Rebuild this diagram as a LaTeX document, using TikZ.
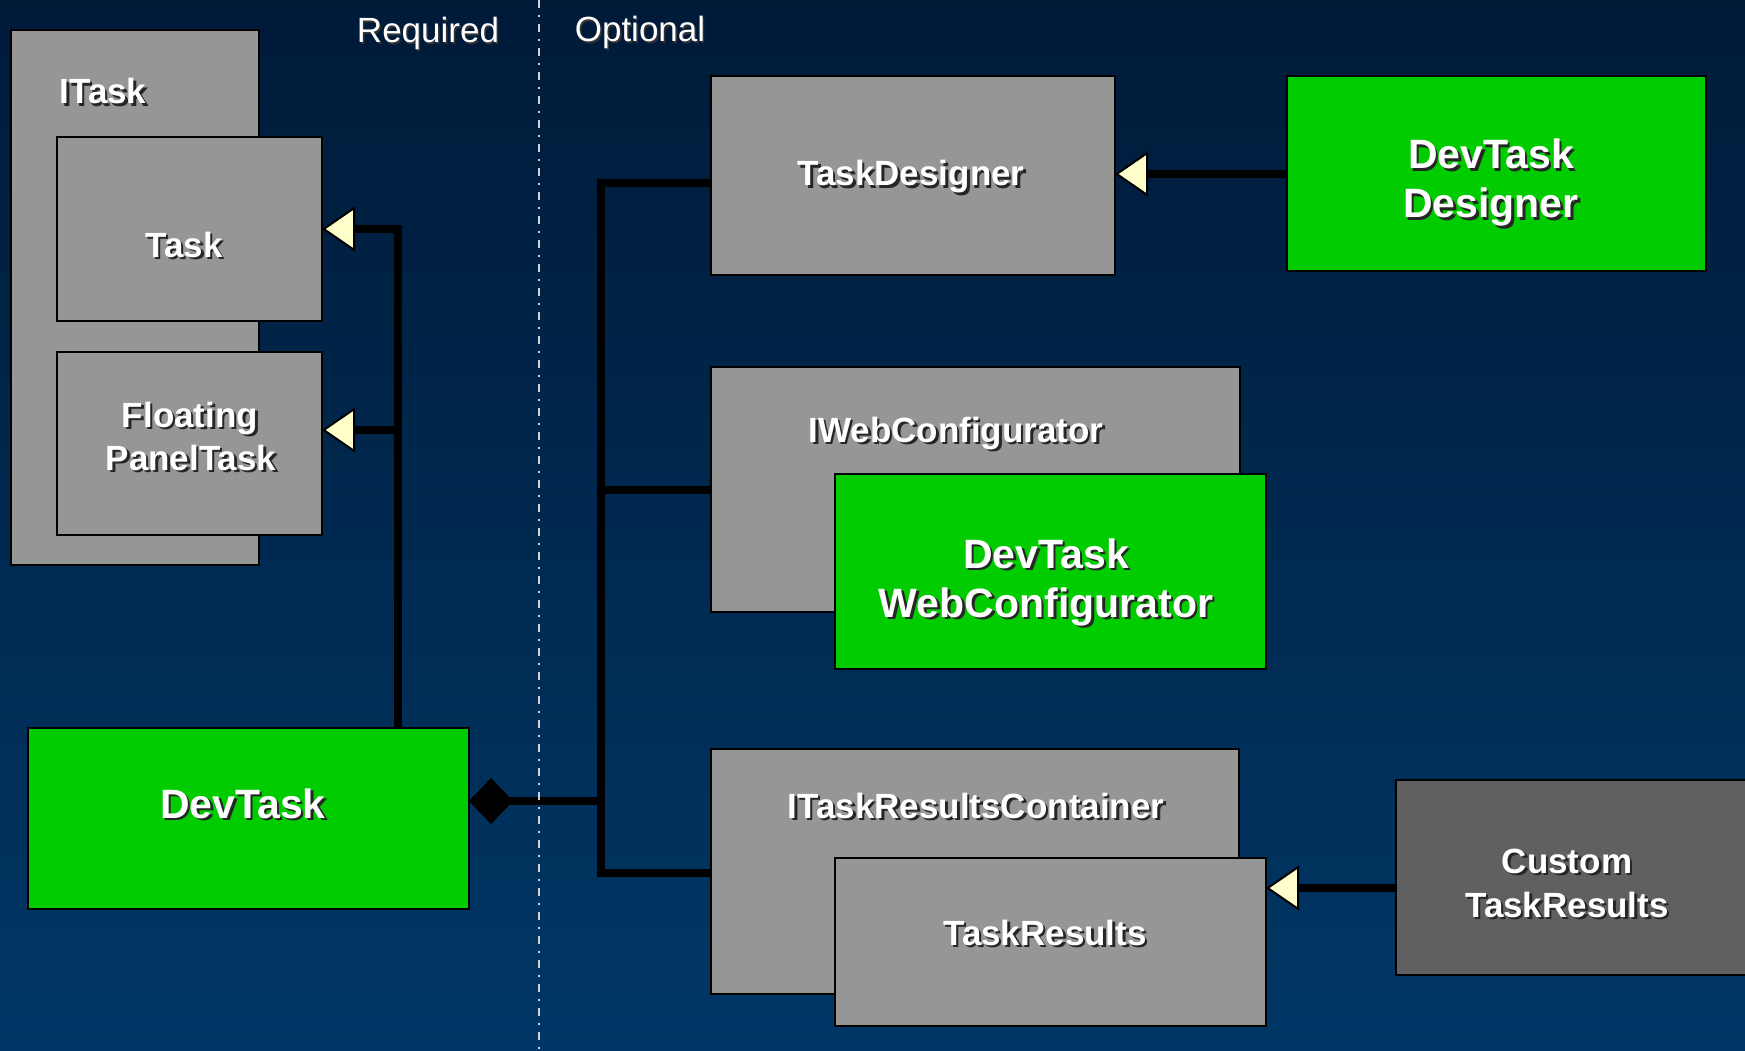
\documentclass[tikz,border=0pt]{standalone}
\usepackage{fontspec}
\setmainfont{Liberation Sans}
\usetikzlibrary{arrows.meta}

\definecolor{bgtop}{RGB}{0,26,56}
\definecolor{bgbottom}{RGB}{0,55,102}
\definecolor{boxgray}{RGB}{150,150,150}
\definecolor{darkbox}{RGB}{96,96,96}
\definecolor{implgreen}{RGB}{0,204,0}
\definecolor{tipfill}{RGB}{255,255,204}
\definecolor{divider}{RGB}{205,210,220}

\newcommand\lblmidfont{\bfseries\fontsize{35}{42}\selectfont}
\newcommand\lblbigfont{\bfseries\fontsize{41}{48}\selectfont}
\newcommand\lblheadfont{\fontsize{35}{42}\selectfont}

% white label with a dark drop shadow: name, position, font, text
\newcommand\boxlabel[4]{%
  \node[lblshadow,font=#3] at #2 {#4};
  \node[lbl,font=#3] (#1) at #2 {#4};
}

\tikzset{
  box/.style={draw=black, line width=2.5pt, fill=boxgray, anchor=north west,
              inner sep=0pt, outer sep=0pt},
  implbox/.style={box, fill=implgreen},
  custombox/.style={box, fill=darkbox},
  conn/.style={draw=black, line width=8pt, line join=miter},
  gentip/.style={-{Triangle[length=33pt,width=45pt,fill=tipfill,line width=2pt]}},
  owntip/.style={{Diamond[length=44pt,width=46pt,fill=black,line width=0.5pt]}-},
  lbl/.style={text=white, anchor=base, inner sep=0pt},
  lblshadow/.style={lbl, text=black!85, xshift=2.5pt, yshift=-2.5pt},
  headshadow/.style={lbl, text=black!80, xshift=1.5pt, yshift=-1.5pt},
  divline/.style={draw=divider, line width=2pt, dash pattern=on 8pt off 7pt on 2pt off 7pt},
}

\begin{document}
\begin{tikzpicture}[x=1pt,y=-1pt]
\useasboundingbox (0,0) rectangle (1745,1051);
\shade[top color=bgtop, bottom color=bgbottom] (0,0) rectangle (1745,1051);

\begin{scope}
\clip (0,0) rectangle (1745,1051);

% required side
\node[box, minimum width=248pt, minimum height=535pt] (itask) at (11,30) {};
\node[box, minimum width=265pt, minimum height=184pt] (task) at (57,137) {};
\node[box, minimum width=265pt, minimum height=183pt] (fpt) at (57,352) {};
\node[implbox, minimum width=441pt, minimum height=181pt] (devtask) at (28,728) {};

% optional side
\node[box, minimum width=404pt, minimum height=199pt] (td) at (711,76) {};
\node[implbox, minimum width=419pt, minimum height=195pt] (dtd) at (1287,76) {};
\node[box, minimum width=529pt, minimum height=245pt] (iwc) at (711,367) {};
\node[implbox, minimum width=431pt, minimum height=195pt] (dtwc) at (835,474) {};
\node[box, minimum width=528pt, minimum height=245pt] (itrc) at (711,749) {};
\node[box, minimum width=431pt, minimum height=168pt] (tr) at (835,858) {};
\node[custombox, minimum width=400pt, minimum height=195pt] (ctr) at (1396,780) {};

% connectors on the required side
\coordinate (tj) at (398,229);
\coordinate (fj) at (398,430);
\draw[conn, gentip] (devtask.north -| tj) -- (tj) -- (task.east |- tj);
\draw[conn, gentip] (fj) -- (fpt.east |- fj);

% bus to the optional parts
\coordinate (bustop) at (601,183);
\coordinate (busbot) at (601,873);
\coordinate (dj) at (601,801);
\draw[conn] (td.west |- bustop) -- (bustop) -- (busbot) -- (itrc.west |- busbot);
\draw[conn] (iwc.west) -- (iwc.west -| bustop);
\draw[conn, owntip] (devtask.east |- dj) -- (dj);

% implementations of the optional parts
\draw[conn, gentip] (dtd.west |- 0,174) -- (td.east |- 0,174);
\draw[conn, gentip] (ctr.west |- 0,888) -- (tr.east |- 0,888);

% divider between required and optional
\draw[divline] (539,0) -- (539,1051);
\end{scope}

% headings
\node[headshadow, font=\lblheadfont] at (428,43) {Required};
\node[lbl, font=\lblheadfont] (reqT) at (428,43) {Required};
\node[headshadow, font=\lblheadfont] at (640,42) {Optional};
\node[lbl, font=\lblheadfont] (optT) at (640,42) {Optional};

% box labels
\boxlabel{itaskT}{(103,104)}{\lblmidfont}{ITask}
\boxlabel{taskT}{(184,257)}{\lblmidfont}{Task}
\boxlabel{fptA}{(190,427)}{\lblmidfont}{Floating}
\boxlabel{fptB}{(191,470)}{\lblmidfont}{PanelTask}
\boxlabel{devtaskT}{(243,818)}{\lblbigfont}{DevTask}
\boxlabel{tdT}{(911,186)}{\lblmidfont}{TaskDesigner}
\boxlabel{dtdA}{(1491,169)}{\lblbigfont}{DevTask}
\boxlabel{dtdB}{(1491,218)}{\lblbigfont}{Designer}
\boxlabel{iwcT}{(956,442)}{\lblmidfont}{IWebConfigurator}
\boxlabel{dtwcA}{(1046,568)}{\lblbigfont}{DevTask}
\boxlabel{dtwcB}{(1046,617)}{\lblbigfont}{WebConfigurator}
\boxlabel{itrcT}{(976,818)}{\lblmidfont}{ITaskResultsContainer}
\boxlabel{trT}{(1045,945)}{\lblmidfont}{TaskResults}
\boxlabel{ctrA}{(1567,873)}{\lblmidfont}{Custom}
\boxlabel{ctrB}{(1567,917)}{\lblmidfont}{TaskResults}
\end{tikzpicture}
\end{document}
